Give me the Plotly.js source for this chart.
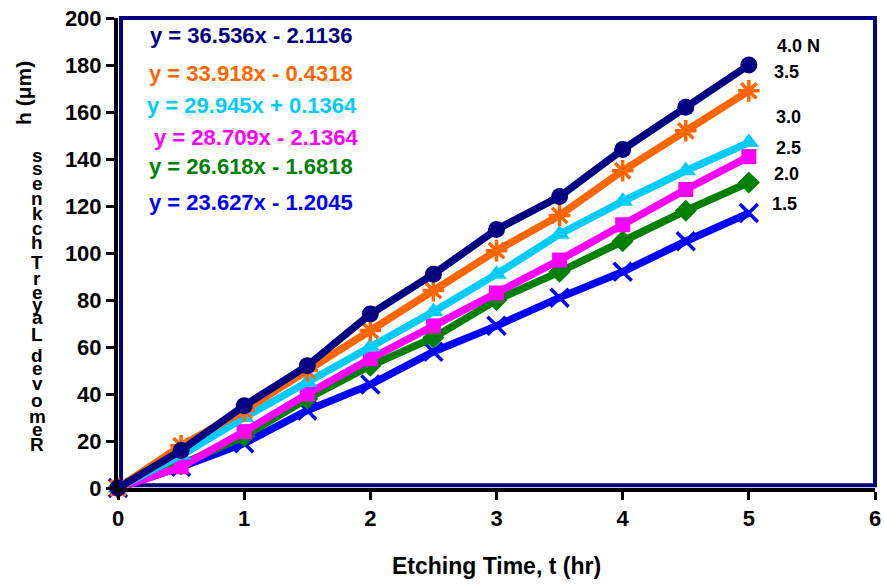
<!DOCTYPE html>
<html>
<head>
<meta charset="utf-8">
<script src="https://cdn.plot.ly/plotly-3.0.1.min.js"></script>
<style>html,body{margin:0;padding:0;background:#fff;}#chart{width:884px;height:588px;}</style>
</head>
<body>
<div id="chart"></div>
<script>
// ---- data ----
const timeHr = [0, 0.5, 1, 1.5, 2, 2.5, 3, 3.5, 4, 4.5, 5];
const h40 = [0, 16, 35, 52, 74, 91, 110, 124, 144, 162, 180];
const h35 = [0, 18, 33, 50, 67, 84, 101, 116, 135, 152, 169];
const h30 = [0, 14, 30, 45, 60, 75, 91, 108, 122, 135, 147];
const h25 = [0, 9, 24, 40, 55, 69, 83, 97, 112, 127, 141];
const h20 = [0, 10, 22, 38, 52, 64, 80, 92, 105, 118, 130];
const h15 = [0, 9, 19, 33, 44, 58, 69, 81, 92, 105, 117];
const seriesNames = ["1.5", "2.0", "2.5", "3.0", "3.5", "4.0 N"];
const equations = [
  "y = 23.627x - 1.2045",
  "y = 26.618x - 1.6818",
  "y = 28.709x - 2.1364",
  "y = 29.945x + 0.1364",
  "y = 33.918x - 0.4318",
  "y = 36.536x - 2.1136"
];
const xTitle = "Etching Time, t (hr)";
const yTitleTop = "h (μm)";
const yLetters = ["s","s","e","n","k","c","h","T","r","e","y","a","L","d","e","v","o","m","e","R"];

// ---- layout helpers ----
const L = 118, R = 9, T = 18, B = 100, W = 884, H = 588;
const pw = W - L - R, ph = H - T - B;
const px2x = p => (p - L) / pw;
const py2y = p => (H - B - p) / ph;

const colors = ["#0000FF", "#008000", "#FF00FF", "#00CCFF", "#FF6600", "#000080"];
const symbols = ["x-thin-open", "diamond", "square", "triangle-up", "asterisk-open", "circle"];
const sizes = [18, 17, 15, 18, 18, 17];
const ys = [h15, h20, h25, h30, h35, h40];

const traces = ys.map((y, i) => ({
  x: timeHr, y: y, name: seriesNames[i], type: "scatter", mode: "lines+markers",
  cliponaxis: false,
  line: {color: colors[i], width: 7.5},
  marker: {color: colors[i], symbol: symbols[i], size: sizes[i],
           line: {color: colors[i], width: (symbols[i].indexOf("open") >= 0 ? 3.5 : 0)}}
}));

const fontFam = "Liberation Sans, Arial, sans-serif";
const annotations = [];
// equations (top to bottom: 4.0 .. 1.5)
const eqY = [35, 73, 105, 137, 166, 203];
const eqX = [148, 147, 145, 152, 147, 147];
for (let k = 0; k < 6; k++) {
  const i = 5 - k;
  annotations.push({xref: "paper", yref: "paper", x: px2x(eqX[k]), y: py2y(eqY[k]),
    xanchor: "left", yanchor: "middle", showarrow: false, text: equations[i],
    font: {family: fontFam, size: 22, color: colors[i], weight: "bold"}});
}
// series labels
const labY = [204, 174, 148, 117, 72, 46];
const labX = [770, 772, 774, 774, 772, 775];
for (let i = 0; i < 6; i++) {
  annotations.push({xref: "paper", yref: "paper", x: px2x(labX[i]), y: py2y(labY[i]),
    xanchor: "left", yanchor: "middle", showarrow: false, text: "<b>" + seriesNames[i] + "</b>",
    font: {family: fontFam, size: 18, color: "#000"}});
}
// y title: rotated part
annotations.push({xref: "paper", yref: "paper", x: px2x(24), y: py2y(93), textangle: -90,
  xanchor: "center", yanchor: "middle", showarrow: false, text: "<b>" + yTitleTop + "</b>",
  font: {family: fontFam, size: 21, color: "#000"}});
// y title: stacked letters
const letY = [155,168,183,198,213,228,243,262,278,292,305,317,335,355,368,383,400,416,429,444];
yLetters.forEach((c, j) => {
  annotations.push({xref: "paper", yref: "paper", x: px2x(37), y: py2y(letY[j]),
    xanchor: "center", yanchor: "middle", showarrow: false, text: "<b>" + c + "</b>",
    font: {family: fontFam, size: 19, color: "#000"}});
});

const layout = {
  width: W, height: H,
  margin: {l: L, r: R, t: T, b: B, pad: 0},
  paper_bgcolor: "#fff", plot_bgcolor: "#fff",
  showlegend: false,
  font: {family: fontFam, color: "#000"},
  xaxis: {range: [0, 6], tickvals: [0,1,2,3,4,5,6], ticks: "outside", ticklen: 8, tickwidth: 3,
    tickcolor: "#000", showline: true, linecolor: "#000", linewidth: 4, showgrid: false, zeroline: false,
    tickfont: {size: 22, family: fontFam, weight: "bold", color: "#000"},
    title: {text: xTitle, font: {size: 23, family: fontFam, weight: "bold", color: "#000"}, standoff: 28}},
  yaxis: {range: [0, 200], tickvals: [0,20,40,60,80,100,120,140,160,180,200], ticks: "outside", ticklen: 8,
    tickwidth: 3, tickcolor: "#000", showline: true, linecolor: "#000", linewidth: 4, showgrid: false,
    zeroline: false, tickfont: {size: 22, family: fontFam, weight: "bold", color: "#000"}},
  shapes: [{type: "rect", xref: "paper", yref: "paper", x0: 0.004, y0: 0.006, x1: 1, y1: 1,
    line: {color: "#000080", width: 4}, layer: "below"}],
  annotations: annotations
};

Plotly.newPlot("chart", traces, layout, {staticPlot: true});
</script>
</body>
</html>
